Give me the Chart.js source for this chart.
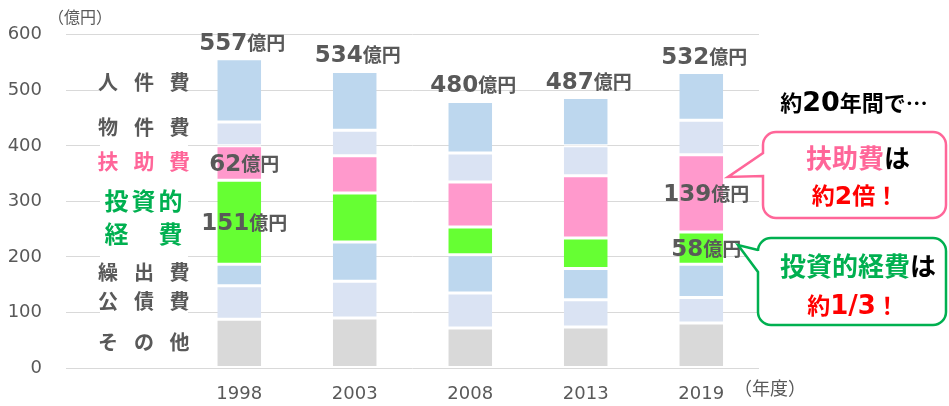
<!DOCTYPE html>
<html>
<head>
<meta charset="utf-8">
<script src="https://cdn.jsdelivr.net/npm/chart.js@4"></script>
<style>
  html, body { margin: 0; background: #fff; overflow: hidden; }
  canvas { display: block; }
</style>
</head>
<body>
<canvas id="chart" width="949" height="406"></canvas>
<script>
// first category is empty: the row names sit there
const years = ['', '1998', '2003', '2008', '2013', '2019'];
const sonota    = [null, 88, 90, 72, 74, 81];
const kousaihi  = [null, 60, 66, 63, 49, 46];
const kuridashi = [null, 39, 71, 69, 56, 60];
const toushi    = [null, 151, 88, 50, 55, 58];
const fujo      = [null, 62, 67, 81, 112, 139];
const bukken    = [null, 43, 46, 52, 54, 62];
const jinken    = [null, 114, 106, 93, 87, 86];
const totals    = [null, 557, 534, 480, 487, 532];

// [dataset index, category index, number]
const segmentLabels = [
  [4, 1, 62], [3, 1, 151], [4, 5, 139], [3, 5, 58]
];

const JP = '"Noto Sans CJK JP", sans-serif';
const NUM = '"DejaVu Sans", "Noto Sans CJK JP", sans-serif';
const GREY = '#595959';
const PINK = '#FF6699';
const GREEN = '#00B050';
const RED = '#FF0000';

function ds(label, data, color) {
  return {
    label, data,
    backgroundColor: color,
    borderColor: '#fff',
    borderWidth: { top: 1.5, bottom: 1.5, left: 0, right: 0 },
    borderSkipped: false,
    barPercentage: 0.38,
    categoryPercentage: 1
  };
}

// runs of text with different sizes on one baseline, centred on cx
function drawParts(ctx, parts, cx, baseY) {
  let w = 0;
  parts.forEach(p => {
    ctx.font = `bold ${p.size}px ${p.num ? NUM : JP}`;
    p.w = ctx.measureText(p.t).width;
    w += p.w;
  });
  let x = cx - w / 2;
  ctx.textAlign = 'left';
  ctx.textBaseline = 'alphabetic';
  parts.forEach(p => {
    ctx.font = `bold ${p.size}px ${p.num ? NUM : JP}`;
    ctx.fillStyle = p.color;
    ctx.fillText(p.t, x, baseY);
    x += p.w;
  });
}

function spaced(ctx, chars, centers, cy, size, color) {
  ctx.font = `bold ${size}px ${JP}`;
  ctx.fillStyle = color;
  ctx.textAlign = 'center';
  ctx.textBaseline = 'middle';
  chars.forEach((c, i) => { if (c) ctx.fillText(c, centers[i], cy); });
}

function callout(ctx, box, tip, attach, color) {
  const { l, t, r, b } = box, rad = 13;
  ctx.beginPath();
  ctx.moveTo(l + rad, t);
  ctx.lineTo(r - rad, t);
  ctx.arcTo(r, t, r, t + rad, rad);
  ctx.lineTo(r, b - rad);
  ctx.arcTo(r, b, r - rad, b, rad);
  ctx.lineTo(l + rad, b);
  ctx.arcTo(l, b, l, b - rad, rad);
  ctx.lineTo(l, attach[1]);
  ctx.lineTo(tip[0], tip[1]);
  ctx.lineTo(l, attach[0]);
  ctx.lineTo(l, t + rad);
  ctx.arcTo(l, t, l + rad, t, rad);
  ctx.closePath();
  ctx.fillStyle = '#fff';
  ctx.fill();
  ctx.lineWidth = 2.5;
  ctx.strokeStyle = color;
  ctx.stroke();
}

const overlay = {
  id: 'overlay',
  beforeDatasetsDraw(chart) {
    const { ctx, scales: { x, y } } = chart;
    // white panel behind the row names hides the grid there
    ctx.save();
    ctx.fillStyle = '#fff';
    ctx.fillRect(x.left + 34, y.getPixelForValue(520), 88, y.getPixelForValue(20) - y.getPixelForValue(520));
    ctx.restore();
  },
  afterDatasetsDraw(chart) {
    const { ctx } = chart;
    ctx.save();
    const cols = [108, 144, 179.5];
    spaced(ctx, ['人', '件', '費'], cols, 82, 20, GREY);
    spaced(ctx, ['物', '件', '費'], cols, 127.5, 20, GREY);
    spaced(ctx, ['扶', '助', '費'], cols, 161, 21, PINK);
    spaced(ctx, ['投', '資', '的'], [116.5, 143.5, 170.5], 201, 24, GREEN);
    spaced(ctx, ['経', '', '費'], [116.5, 143.5, 170.5], 234, 24, GREEN);
    spaced(ctx, ['繰', '出', '費'], cols, 272, 20, GREY);
    spaced(ctx, ['公', '債', '費'], cols, 301, 20, GREY);
    spaced(ctx, ['そ', 'の', '他'], cols, 342.5, 20, GREY);

    // totals above bars
    const top = chart.getDatasetMeta(6);
    totals.forEach((v, i) => {
      if (v == null) return;
      const el = top.data[i];
      drawParts(ctx, [
        { t: String(v), size: 23, color: GREY, num: true },
        { t: '億円', size: 19, color: GREY }
      ], el.x + 3, el.y - 9);
    });

    // values inside segments
    segmentLabels.forEach(([d, i, v]) => {
      const el = chart.getDatasetMeta(d).data[i];
      const cy = (el.y + el.base) / 2;
      drawParts(ctx, [
        { t: String(v), size: 23, color: GREY, num: true },
        { t: '億円', size: 19, color: GREY }
      ], el.x + 5, cy + 8);
    });

    // axis unit labels
    ctx.font = `16px ${JP}`;
    ctx.fillStyle = GREY;
    ctx.textAlign = 'left';
    ctx.textBaseline = 'middle';
    ctx.fillText('（億円）', 48, 17);
    ctx.font = `18px ${JP}`;
    ctx.fillText('（年度）', 734, 388);

    drawParts(ctx, [
      { t: '約', size: 22, color: '#000' },
      { t: '20', size: 27, color: '#000', num: true },
      { t: '年間で…', size: 22, color: '#000' }
    ], 854, 111);

    callout(ctx, { l: 763, t: 132, r: 946, b: 218 }, [728, 177], [153, 176], PINK);
    drawParts(ctx, [
      { t: '扶助費', size: 26, color: PINK },
      { t: 'は', size: 26, color: '#000' }
    ], 858, 168);
    drawParts(ctx, [
      { t: '約', size: 23, color: RED },
      { t: '2', size: 25, color: RED, num: true },
      { t: '倍！', size: 23, color: RED }
    ], 855, 204);

    callout(ctx, { l: 758, t: 238, r: 946, b: 325 }, [738, 245], [250, 272], GREEN);
    drawParts(ctx, [
      { t: '投資的経費', size: 26, color: GREEN },
      { t: 'は', size: 26, color: '#000' }
    ], 858, 276);
    drawParts(ctx, [
      { t: '約', size: 23, color: RED },
      { t: '1/3', size: 26, color: RED, num: true },
      { t: '！', size: 23, color: RED }
    ], 853, 314);
    ctx.restore();
  }
};

new Chart(document.getElementById('chart'), {
  type: 'bar',
  data: {
    labels: years,
    datasets: [
      ds('その他', sonota, '#D9D9D9'),
      ds('公債費', kousaihi, '#DAE3F3'),
      ds('繰出費', kuridashi, '#BDD7EE'),
      ds('投資的経費', toushi, '#66FF33'),
      ds('扶助費', fujo, '#FF99CC'),
      ds('物件費', bukken, '#DAE3F3'),
      ds('人件費', jinken, '#BDD7EE')
    ]
  },
  options: {
    responsive: false,
    animation: false,
    layout: { padding: { top: 19, right: 190, bottom: 0, left: 0 } },
    plugins: {
      legend: { display: false },
      tooltip: { enabled: false }
    },
    scales: {
      x: {
        stacked: true,
        grid: { display: false },
        border: { display: false },
        ticks: { color: GREY, font: { family: NUM, size: 18 }, padding: 8 },
        afterFit(s) { s.height = 38; }
      },
      y: {
        stacked: true,
        min: 0,
        max: 600,
        ticks: { stepSize: 100, color: GREY, font: { family: NUM, size: 18 }, padding: 24 },
        grid: { color: '#D9D9D9', drawTicks: false },
        border: { display: false },
        afterFit(s) { s.width = 66; }
      }
    }
  },
  plugins: [overlay]
});
</script>
</body>
</html>
